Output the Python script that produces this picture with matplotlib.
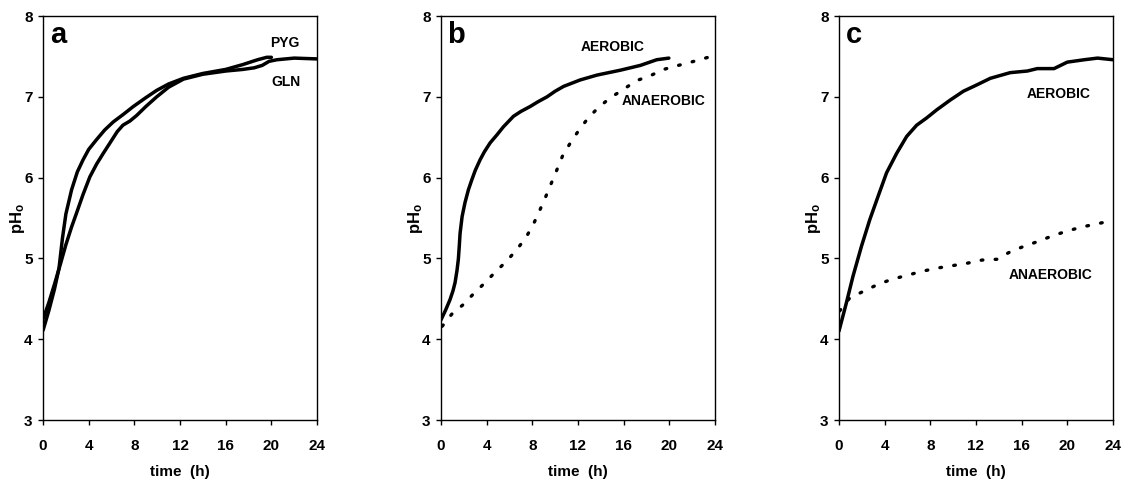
import matplotlib
matplotlib.use("Agg")
import matplotlib.pyplot as plt

plt.rcParams['font.family'] = ['Liberation Sans', 'DejaVu Sans']
plt.rcParams['font.weight'] = 'bold'
plt.rcParams['mathtext.default'] = 'regular'

# panel a
a_pyg_t = [0, 0.5, 1.0, 1.4, 1.7, 2.0, 2.5, 3.0, 3.5, 4.0, 4.68, 5.4, 6.15, 7.0, 7.9, 9.0, 9.95, 11.0, 12.3,
           14.0, 16.0, 17.5, 18.8, 19.6, 20.0]
a_pyg_ph = [4.11, 4.35, 4.62, 4.88, 5.25, 5.55, 5.85, 6.07, 6.22, 6.35, 6.47, 6.59, 6.69, 6.78, 6.88, 6.99, 7.08,
            7.16, 7.23, 7.29, 7.34, 7.40, 7.46, 7.49, 7.49]
a_gln_t = [0, 0.5, 1.0, 1.5, 2.0, 2.5, 2.93, 3.5, 4.1, 4.7, 5.27, 6.0, 6.5, 7.0, 7.6, 8.2, 9.0, 9.95, 11.0, 12.3,
           14.0, 16.0, 17.5, 18.5, 19.2, 19.8, 20.5, 22.0, 24.0]
a_gln_ph = [4.25, 4.45, 4.68, 4.92, 5.17, 5.39, 5.56, 5.79, 6.01, 6.17, 6.30, 6.46, 6.57, 6.65, 6.70, 6.77, 6.88,
            7.00, 7.12, 7.22, 7.28, 7.32, 7.34, 7.36, 7.39, 7.44, 7.46, 7.48, 7.47]

# panel b
b_aer_t = [0, 0.4, 0.79, 1.05, 1.23, 1.4, 1.52, 1.6, 1.67, 1.85, 2.1, 2.4, 2.69, 3.0, 3.42, 3.8, 4.3, 4.9, 5.47,
           6.35, 7.0, 7.8, 8.5, 9.28, 10.0, 10.74, 12.2, 13.67, 15.7, 17.47, 18.9, 19.96]
b_aer_ph = [4.24, 4.36, 4.49, 4.60, 4.70, 4.85, 4.99, 5.15, 5.31, 5.52, 5.69, 5.85, 5.97, 6.09, 6.22, 6.32, 6.43,
            6.53, 6.63, 6.76, 6.82, 6.88, 6.94, 7.00, 7.07, 7.13, 7.21, 7.27, 7.33, 7.39, 7.46, 7.48]
b_ana_t = [0.1, 0.94, 1.96, 2.9, 3.86, 4.74, 5.7, 6.58, 7.4, 8.05, 8.6, 9.13, 9.66, 10.16, 10.65, 11.33, 12.09,
           12.9, 13.8, 14.84, 15.95, 17.1, 18.3, 19.5, 20.8, 22.15, 23.4, 24.0]
b_ana_ph = [4.16, 4.31, 4.43, 4.57, 4.70, 4.83, 4.96, 5.10, 5.25, 5.41, 5.58, 5.75, 5.93, 6.10, 6.27, 6.43, 6.59,
            6.74, 6.87, 6.99, 7.09, 7.20, 7.26, 7.34, 7.39, 7.44, 7.49, 7.51]

# panel c
c_aer_t = [0, 0.65, 1.23, 1.97, 2.7, 3.43, 4.17, 5.05, 5.93, 6.81, 7.69, 8.57, 9.74, 10.9, 12.1, 13.26, 15.0,
           16.5, 17.37, 18.84, 20.0, 21.5, 22.65, 24.0]
c_aer_ph = [4.10, 4.45, 4.78, 5.15, 5.48, 5.77, 6.06, 6.30, 6.51, 6.65, 6.74, 6.84, 6.96, 7.07, 7.15, 7.23, 7.30,
            7.32, 7.35, 7.35, 7.43, 7.46, 7.48, 7.46]
c_ana_t = [0.06, 0.94, 2.1, 3.43, 4.6, 5.93, 7.25, 8.57, 9.9, 11.2, 12.53, 13.85, 14.97, 16.2, 17.43, 18.7,
           20.0, 21.3, 22.65, 24.0]
c_ana_ph = [4.35, 4.51, 4.59, 4.68, 4.74, 4.79, 4.84, 4.88, 4.91, 4.94, 4.98, 4.99, 5.08, 5.15, 5.21, 5.28,
            5.34, 5.39, 5.43, 5.47]

xticks = [0, 4, 8, 12, 16, 20, 24]
yticks = [3, 4, 5, 6, 7, 8]

fig = plt.figure(figsize=(11.21, 4.82), dpi=100)
lefts = [0.0384, 0.3934, 0.7484]
axes = [fig.add_axes([l, 0.1286, 0.2444, 0.838]) for l in lefts]

solid = dict(color='black', lw=2.5, solid_capstyle='round', solid_joinstyle='round')
dotted = dict(color='black', lw=2.4, linestyle=(0, (0.5, 3.7)), dash_capstyle='round')

ax = axes[0]
ax.plot(a_pyg_t, a_pyg_ph, **solid)
ax.plot(a_gln_t, a_gln_ph, **solid)
ax.text(21.2, 7.67, 'PYG', ha='center', va='center', fontsize=10)
ax.text(21.3, 7.18, 'GLN', ha='center', va='center', fontsize=10)

ax = axes[1]
ax.plot(b_aer_t, b_aer_ph, **solid)
ax.plot(b_ana_t, b_ana_ph, **dotted)
ax.text(15.0, 7.62, 'AEROBIC', ha='center', va='center', fontsize=10)
ax.text(19.5, 6.95, 'ANAEROBIC', ha='center', va='center', fontsize=10)

ax = axes[2]
ax.plot(c_aer_t, c_aer_ph, **solid)
ax.plot(c_ana_t, c_ana_ph, **dotted)
ax.text(19.2, 7.03, 'AEROBIC', ha='center', va='center', fontsize=10)
ax.text(18.5, 4.80, 'ANAEROBIC', ha='center', va='center', fontsize=10)

for ax, letter in zip(axes, ['a', 'b', 'c']):
    ax.set_xlim(0, 24)
    ax.set_ylim(3, 8)
    ax.set_xticks(xticks)
    ax.set_yticks(yticks)
    ax.tick_params(direction='out', length=3.5, width=1, labelsize=11)
    ax.tick_params(axis='x', pad=10)
    ax.tick_params(axis='y', pad=4)
    for lab in ax.get_xticklabels() + ax.get_yticklabels():
        lab.set_fontweight('bold')
    for s in ax.spines.values():
        s.set_linewidth(1)
    ax.set_xlabel('time  (h)', fontsize=11, fontweight='bold', labelpad=9)
    ax.set_ylabel('pH$_\\mathregular{o}$', fontsize=12, fontweight='bold', labelpad=-2)
    ax.text(1.3, 7.76, letter, ha='center', va='center', fontsize=21, fontweight='bold')

fig.savefig('out.png', dpi=100)
